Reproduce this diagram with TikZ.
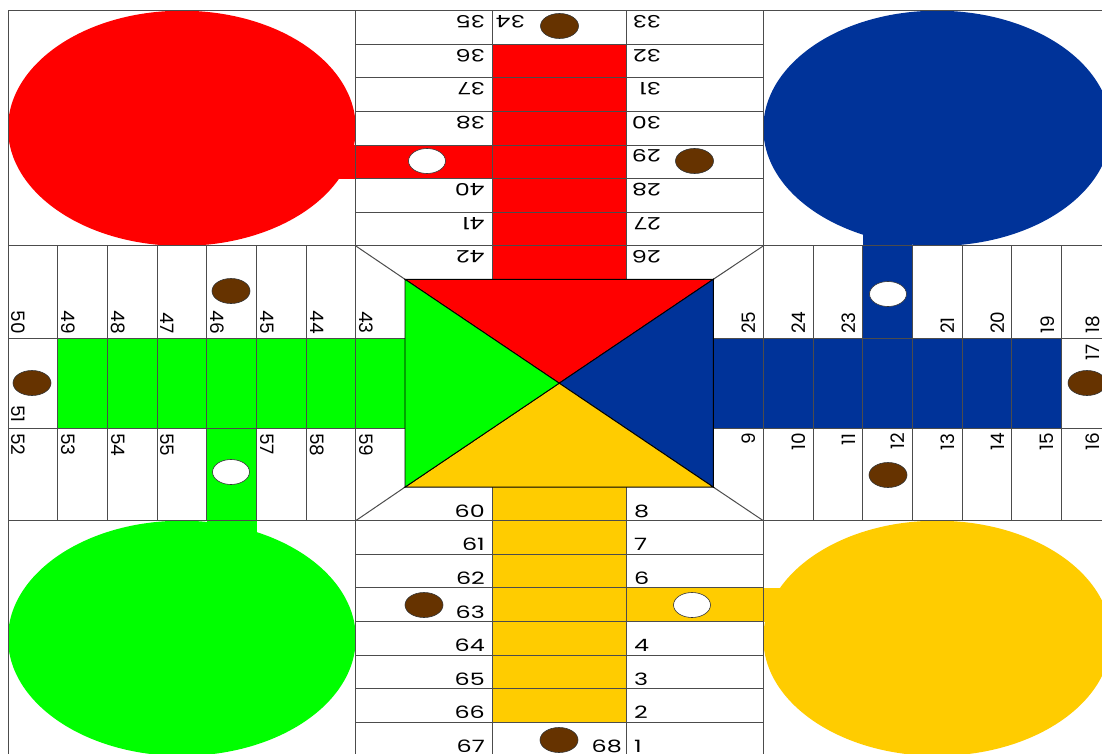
\documentclass[tikz,border=0pt]{standalone}
\usepackage{fontspec}
\usepackage{tikz}
\usetikzlibrary{calc}
\newfontfamily\cellfont{Poppins}
\newfontfamily\cellwidefont[FakeStretch=1.4]{Poppins}

\definecolor{rColor}{HTML}{FF0000}
\definecolor{bColor}{HTML}{003399}
\definecolor{gColor}{HTML}{00FF00}
\definecolor{yColor}{HTML}{FFCC00}
\definecolor{pColor}{HTML}{663300}

\begin{document}
\begin{tikzpicture}[
    x=1pt, y=-1pt,
    % grid and board outlines
    grid/.style={draw=black!70, line width=1pt},
    tri/.style={draw=black, line width=0.9pt},
    % cell numbers (upright ones set wider)
    num/.style={inner sep=0pt, font=\cellfont\fontsize{18.5}{18.5}\selectfont},
    wnum/.style={inner sep=0pt, font=\cellwidefont\fontsize{17}{17}\selectfont},
    % pieces on the board
    pawn/.style={draw=black!80, line width=0.6pt, fill=pColor},
    safe/.style={draw=black!80, line width=0.6pt, fill=white},
]

% ==================== 1. grid lines of the board ====================
\def\xL{8}      \def\xR{1111.2}
\def\xA{355.7}  \def\xB{492.5}  \def\xC{626.5}  \def\xD{763.3}
\def\yT{10.7}   \def\yBot{755.9}
\def\yA{245.9}  \def\yB{338.3}  \def\yC{428.3}  \def\yD{520.7}
% inner square with the four triangles
\def\xIL{405}   \def\xIR{713.3} \def\yIT{279.3} \def\yIB{487.1}
\def\rh{33.6}   \def\cw{49.7}

\clip (0,0) rectangle (1102,754);
\fill[white] (0,0) rectangle (1102,754);

% ==================== 2. homes with their exit strip ====================
\fill[rColor] (181.9,128.3) ellipse [x radius=173.9, y radius=117.6];
\fill[rColor] (338,145.1) rectangle (\xB,178.7);

\fill[bColor] (937.2,128.3) ellipse [x radius=173.9, y radius=117.6];
\fill[bColor] (862.7,234.6) rectangle (912.4,\yB);

\fill[gColor] (181.9,638.3) ellipse [x radius=173.9, y radius=117.6];
\fill[gColor] (206.8,\yC) rectangle (256.5,532);

\fill[yColor] (937.2,638.3) ellipse [x radius=173.9, y radius=117.6];
\fill[yColor] (\xC,587.9) rectangle (780.2,621.5);

% ==================== 3. coloured home columns ====================
\fill[rColor] (\xB,44.3) rectangle (\xC,\yIT);
\fill[gColor] (57.7,\yB) rectangle (\xIL,\yC);
\fill[bColor] (\xIR,\yB) rectangle (1061.5,\yC);
\fill[yColor] (\xB,\yIB) rectangle (\xC,722.3);

% ==================== 4. cells ====================
% top and bottom arms
\foreach \x in {\xA,\xB,\xC,\xD} {
  \draw[grid] (\x,\yT) -- (\x,\yA);
  \draw[grid] (\x,\yD) -- (\x,\yBot);
}
\foreach \j in {0,...,7} {
  \draw[grid] (\xA,{\yT+\j*\rh}) -- (\xD,{\yT+\j*\rh});
  \draw[grid] (\xA,{\yD+\j*\rh}) -- (\xD,{\yD+\j*\rh});
}
% left and right arms
\foreach \i in {0,...,7} {
  \draw[grid] ({\xL+\i*\cw},\yA) -- ({\xL+\i*\cw},\yD);
  \draw[grid] ({\xD+\i*\cw},\yA) -- ({\xD+\i*\cw},\yD);
}
\foreach \y in {\yA,\yB,\yC,\yD} {
  \draw[grid] (\xL,\y) -- (\xA,\y);
  \draw[grid] (\xD,\y) -- (\xR,\y);
}
% pieces of the arms that run into the centre
\draw[grid] (\xB,\yA) -- (\xB,\yIT)  (\xC,\yA) -- (\xC,\yIT);
\draw[grid] (\xB,\yIB) -- (\xB,\yD)  (\xC,\yIB) -- (\xC,\yD);
\draw[grid] (\xA,\yB) -- (\xIL,\yB)  (\xA,\yC) -- (\xIL,\yC);
\draw[grid] (\xIR,\yB) -- (\xD,\yB)  (\xIR,\yC) -- (\xD,\yC);
% corner cuts of the centre
\draw[grid] (\xA,\yA) -- (\xIL,\yIT)  (\xD,\yA) -- (\xIR,\yIT);
\draw[grid] (\xA,\yD) -- (\xIL,\yIB)  (\xD,\yD) -- (\xIR,\yIB);
\draw[grid] (\xL,\yT) rectangle (\xR,\yBot);

% ==================== 5. centre triangles ====================
\coordinate (mid) at (559.2,383.2);
\filldraw[tri, fill=rColor] (\xIL,\yIT) -- (\xIR,\yIT) -- (mid) -- cycle;
\filldraw[tri, fill=bColor] (\xIR,\yIT) -- (\xIR,\yIB) -- (mid) -- cycle;
\filldraw[tri, fill=yColor] (\xIL,\yIB) -- (\xIR,\yIB) -- (mid) -- cycle;
\filldraw[tri, fill=gColor] (\xIL,\yIT) -- (\xIL,\yIB) -- (mid) -- cycle;

% ==================== 6. cell numbers ====================
% top arm, upside down
\foreach \n/\j in {35/0,36/1,37/2,38/3,40/5,41/6,42/7}
  \node[wnum, rotate=180, anchor=west] (c\n) at (485,{\yT+\j*\rh+11}) {\n};
\foreach \n/\j in {33/0,32/1,31/2,30/3,29/4,28/5,27/6,26/7}
  \node[wnum, rotate=180, anchor=west] (c\n) at (661,{\yT+\j*\rh+11}) {\n};
\node[wnum, rotate=180, anchor=west] (c34) at (525,{\yT+11}) {34};

% bottom arm, upright
\foreach \n/\j in {60/0,61/1,62/2,63/3,64/4,65/5,66/6,67/7}
  \node[wnum, anchor=east] (c\n) at (485,{\yIB+\j*\rh+24}) {\n};
\foreach \n/\j in {8/0,7/1,6/2,4/4,3/5,2/6,1/7}
  \node[wnum, anchor=west] (c\n) at (634,{\yIB+\j*\rh+24}) {\n};
\node[wnum, anchor=east] (c68) at (622,{\yIB+7*\rh+24}) {68};

% left arm, turned clockwise
\foreach \n/\i in {50/0,49/1,48/2,47/3,46/4,45/5,44/6,43/7}
  \node[num, rotate=-90, anchor=east] (c\n) at ({\xL+\i*\cw+10.5},334) {\n};
\foreach \n/\i in {52/0,53/1,54/2,55/3,57/5,58/6,59/7}
  \node[num, rotate=-90, anchor=west] (c\n) at ({\xL+\i*\cw+10.5},433) {\n};
\node[num, rotate=-90, anchor=east] (c51) at (18.5,423) {51};

% right arm, turned anticlockwise
\foreach \n/\i in {25/0,24/1,23/2,21/4,20/5,19/6}
  \node[num, rotate=90, anchor=west] (c\n) at ({\xIR+(\i+1)*\cw-14},334) {\n};
\foreach \n/\i in {9/0,10/1,11/2,12/3,13/4,14/5,15/6}
  \node[num, rotate=90, anchor=east] (c\n) at ({\xIR+(\i+1)*\cw-14},433) {\n};
\node[num, rotate=90, anchor=west] (c18) at (1093,334) {18};
\node[num, rotate=90, anchor=east] (c17) at (1093,344) {17};
\node[num, rotate=90, anchor=east] (c16) at (1093,433) {16};

% ==================== 7. pieces ====================
\foreach \px/\py in {559.5/26, 694.5/161, 231/291, 32/383, 1087/383, 888/475, 424/605, 559/740}
  \draw[pawn] (\px,\py) ellipse [x radius=19, y radius=12.5];
\foreach \px/\py in {427/161, 888/294, 231/472, 692/605}
  \draw[safe] (\px,\py) ellipse [x radius=18.5, y radius=12.5];

\end{tikzpicture}
\end{document}
